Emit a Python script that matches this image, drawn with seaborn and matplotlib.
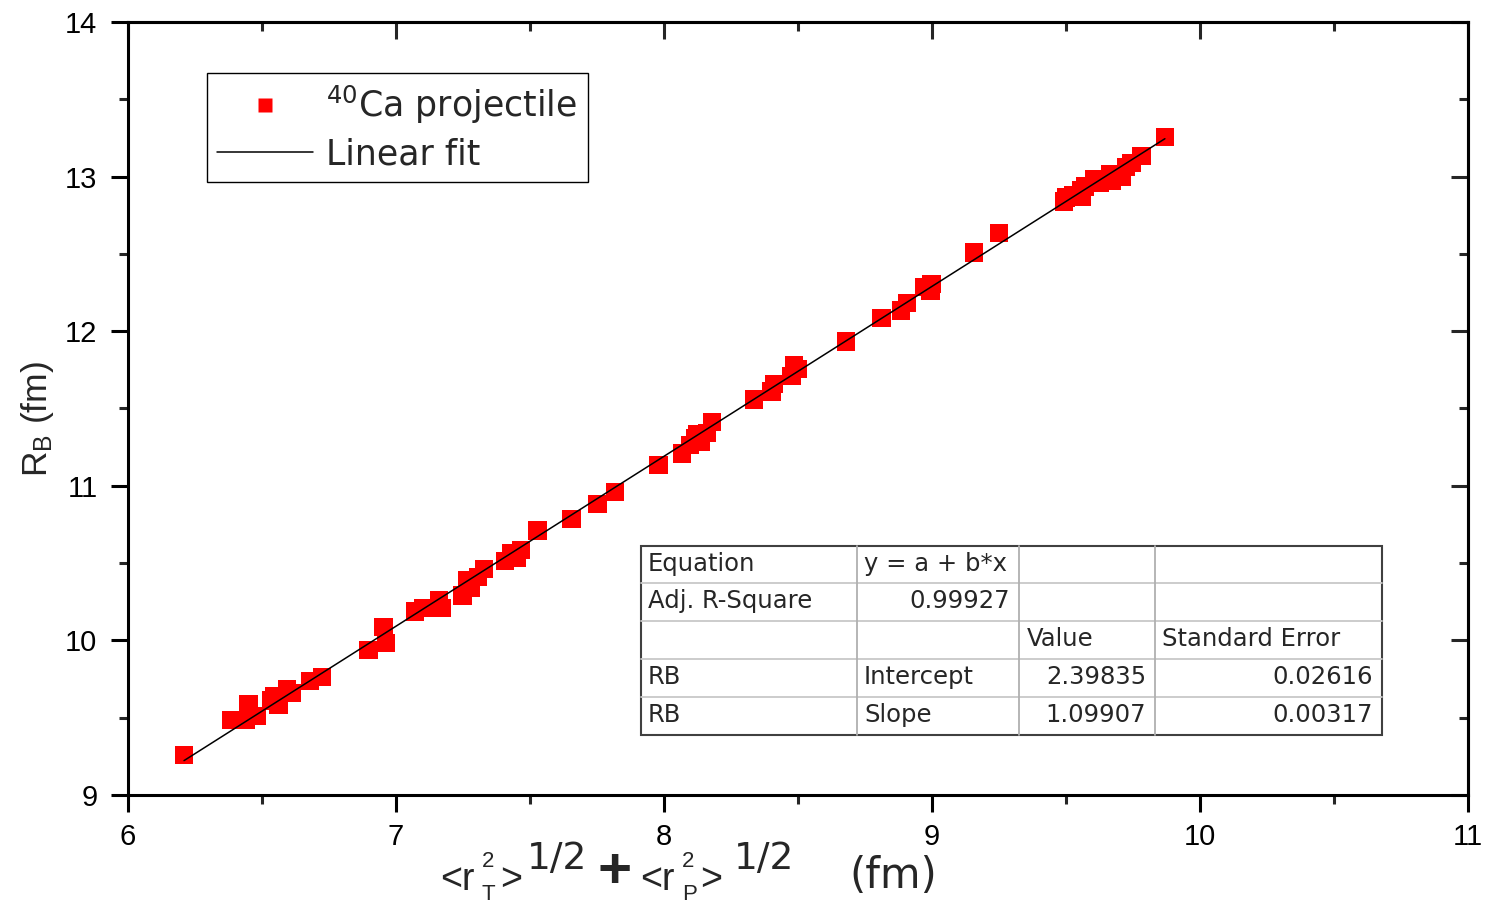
import numpy as np
import pandas as pd
import matplotlib
matplotlib.use("Agg")
import matplotlib.pyplot as plt
from matplotlib.lines import Line2D
from matplotlib.ticker import MultipleLocator
import seaborn as sns

# ---------------- data ----------------
x_vals = [6.209, 6.384, 6.439, 6.449, 6.479, 6.534, 6.546, 6.562, 6.594, 6.610,
          6.678, 6.723, 6.897, 6.954, 6.963, 7.071, 7.100, 7.160, 7.170, 7.248,
          7.265, 7.280, 7.305, 7.329, 7.407, 7.431, 7.449, 7.467, 7.528, 7.655,
          7.752, 7.816, 7.979, 8.066, 8.097, 8.116, 8.125, 8.137, 8.160, 8.178,
          8.335, 8.401, 8.410, 8.476, 8.485, 8.498, 8.678, 8.812, 8.884, 8.907,
          8.969, 8.998, 8.995, 9.157, 9.250, 9.493, 9.500, 9.527, 9.555, 9.560,
          9.571, 9.605, 9.627, 9.665, 9.670, 9.710, 9.723, 9.745, 9.782, 9.869]
y_vals = [9.259, 9.487, 9.487, 9.586, 9.509, 9.612, 9.639, 9.586, 9.687, 9.661,
          9.736, 9.762, 9.936, 10.085, 9.984, 10.188, 10.210, 10.259, 10.211, 10.290,
          10.387, 10.337, 10.410, 10.461, 10.512, 10.561, 10.533, 10.585, 10.710, 10.787,
          10.884, 10.959, 11.134, 11.208, 11.262, 11.310, 11.337, 11.285, 11.340, 11.411,
          11.558, 11.611, 11.660, 11.711, 11.783, 11.757, 11.934, 12.087, 12.134, 12.184,
          12.285, 12.307, 12.263, 12.509, 12.635, 12.840, 12.865, 12.883, 12.910, 12.870,
          12.937, 12.986, 12.960, 13.013, 12.975, 13.000, 13.061, 13.088, 13.132, 13.257]

fit_intercept = 2.39835
fit_slope = 1.09907

x_ticks = [6, 7, 8, 9, 10, 11]
y_ticks = [9, 10, 11, 12, 13, 14]

table_rows = [
    ["Equation", "y = a + b*x", "", ""],
    ["Adj. R-Square", "0.99927", "", ""],
    ["", "", "Value", "Standard Error"],
    ["RB", "Intercept", "2.39835", "0.02616"],
    ["RB", "Slope", "1.09907", "0.00317"],
]

series_label = r"$^{\mathregular{40}}$Ca projectile"
fit_label = "Linear fit"

# ---------------- style ----------------
sns.set_theme(style="ticks")
plt.rcParams["font.family"] = ["Liberation Sans", "DejaVu Sans"]
plt.rcParams["mathtext.fontset"] = "custom"
plt.rcParams["mathtext.rm"] = "Liberation Sans"
plt.rcParams["mathtext.it"] = "Liberation Sans"

WIDE = ["DejaVu Sans"]

W, H = 1489, 906
fig = plt.figure(figsize=(W / 100, H / 100), dpi=100)
AX_L, AX_R, AX_T, AX_B = 128, 1468, 22, 795
ax = fig.add_axes([AX_L / W, 1 - AX_B / H, (AX_R - AX_L) / W, (AX_B - AX_T) / H])

df = pd.DataFrame({"x": x_vals, "y": y_vals})
xfit = np.array([min(x_vals), max(x_vals)])
fit_df = pd.DataFrame({"x": xfit, "y": fit_intercept + fit_slope * xfit})

sns.scatterplot(data=df, x="x", y="y", ax=ax, marker="s", s=175,
                color="#ff0000", edgecolor="none", linewidth=0, zorder=2)
sns.lineplot(data=fit_df, x="x", y="y", ax=ax, color="black", linewidth=1.1, zorder=3)

ax.set_xlim(6, 11)
ax.set_ylim(9, 14)
ax.set_xticks(x_ticks)
ax.set_yticks(y_ticks)
ax.set_xticklabels([str(t) for t in x_ticks])
ax.set_yticklabels([str(t) for t in y_ticks])
ax.xaxis.set_minor_locator(MultipleLocator(0.5))
ax.yaxis.set_minor_locator(MultipleLocator(0.5))
ax.set_xlabel("")
ax.set_ylabel("")

for sp in ax.spines.values():
    sp.set_visible(True)
    sp.set_linewidth(2.2)
    sp.set_color("black")

ax.tick_params(which="major", direction="out", length=12, width=2.2, labelsize=21,
               colors="black", top=False, right=False, pad=8)
ax.tick_params(which="minor", direction="out", length=6.5, width=2.2,
               top=False, right=False)
ax.tick_params(axis="y", which="major", pad=10)

secx = ax.secondary_xaxis("top")
secx.set_xticks(x_ticks)
secx.xaxis.set_minor_locator(MultipleLocator(0.5))
secx.tick_params(which="major", direction="in", length=12, width=2.2, labeltop=False)
secx.tick_params(which="minor", direction="in", length=6.5, width=2.2)
secx.spines["top"].set_linewidth(2.2)
secy = ax.secondary_yaxis("right")
secy.set_yticks(y_ticks)
secy.yaxis.set_minor_locator(MultipleLocator(0.5))
secy.tick_params(which="major", direction="in", length=12, width=2.2, labelright=False)
secy.tick_params(which="minor", direction="in", length=6.5, width=2.2)
secy.spines["right"].set_linewidth(2.2)

# ---------------- legend ----------------
handles = [
    Line2D([], [], linestyle="none", marker="s", markersize=9.5,
           markerfacecolor="#ff0000", markeredgecolor="none"),
    Line2D([], [], color="black", linewidth=1.1),
]
leg = ax.legend(handles, [series_label, fit_label], loc="upper left",
                bbox_to_anchor=((207 - AX_L) / (AX_R - AX_L), (AX_B - 73) / (AX_B - AX_T)),
                borderaxespad=0, prop={"family": WIDE, "size": 25},
                frameon=True, fancybox=False,
                edgecolor="black", framealpha=1, handlelength=2.75,
                handletextpad=0.38, labelspacing=0.33, borderpad=0.3)
leg.get_frame().set_linewidth(1.0)

# ---------------- fit table ----------------
def axx(px):
    return (px - AX_L) / (AX_R - AX_L)

def axy(py):
    return (AX_B - py) / (AX_B - AX_T)

col_edges = [641, 857, 1019, 1155, 1382]
row_edges = [546, 583, 621, 659, 697, 735]
tr = ax.transAxes
for yy in row_edges[1:-1]:
    ax.plot([axx(col_edges[0]), axx(col_edges[-1])], [axy(yy), axy(yy)],
            transform=tr, color="#c8c8c8", lw=1.3, zorder=5, clip_on=False)
for xx in col_edges[1:-1]:
    ax.plot([axx(xx), axx(xx)], [axy(row_edges[0]), axy(row_edges[-1])],
            transform=tr, color="#b0b0b0", lw=1.3, zorder=5, clip_on=False)
ax.add_patch(plt.Rectangle((axx(col_edges[0]), axy(row_edges[-1])),
                           axx(col_edges[-1]) - axx(col_edges[0]),
                           axy(row_edges[0]) - axy(row_edges[-1]),
                           transform=tr, fill=True, facecolor="white",
                           edgecolor="#404040", lw=1.5, zorder=4))

left_pos = [648, 864, 1027, 1162]
right_pos = [None, 1010, 1146, 1373]
for r, row in enumerate(table_rows):
    yc = (row_edges[r] + row_edges[r + 1]) / 2 - 1
    for c, txt in enumerate(row):
        if not txt:
            continue
        numeric = txt[0].isdigit()
        if numeric:
            ax.text(axx(right_pos[c]), axy(yc), txt, transform=tr, ha="right",
                    va="center", fontsize=17.5, family=WIDE, zorder=6)
        else:
            ax.text(axx(left_pos[c]), axy(yc), txt, transform=tr, ha="left",
                    va="center", fontsize=17.5, family=WIDE, zorder=6)

# ---------------- axis labels ----------------
def ft(px, py, s, size, **kw):
    fig.text(px / W, 1 - py / H, s, fontsize=size, **kw)

base = 27
small = 16
ft(440, 890, "<r", base, va="baseline")
ft(482, 867, "2", small, va="baseline")
ft(482, 900, "T", small, va="baseline")
ft(500, 890, ">", base, va="baseline")
ft(527, 869, "1/2", 27, va="baseline", family=WIDE)
ft(615, 873, "+", 42, va="center", ha="center", fontweight="bold")
ft(640, 890, "<r", base, va="baseline")
ft(682, 867, "2", small, va="baseline")
ft(682, 900, "P", small, va="baseline")
ft(700, 890, ">", base, va="baseline")
ft(734, 869, "1/2", 27, va="baseline", family=WIDE)
ft(849, 888, "(fm)", 30, va="baseline", family=WIDE)

fig.text(38 / W, 1 - 419 / H, r"R$_{\mathregular{B}}$ (fm)", fontsize=25.5,
         rotation=90, ha="center", va="center")

fig.savefig("out.png", dpi=100)
